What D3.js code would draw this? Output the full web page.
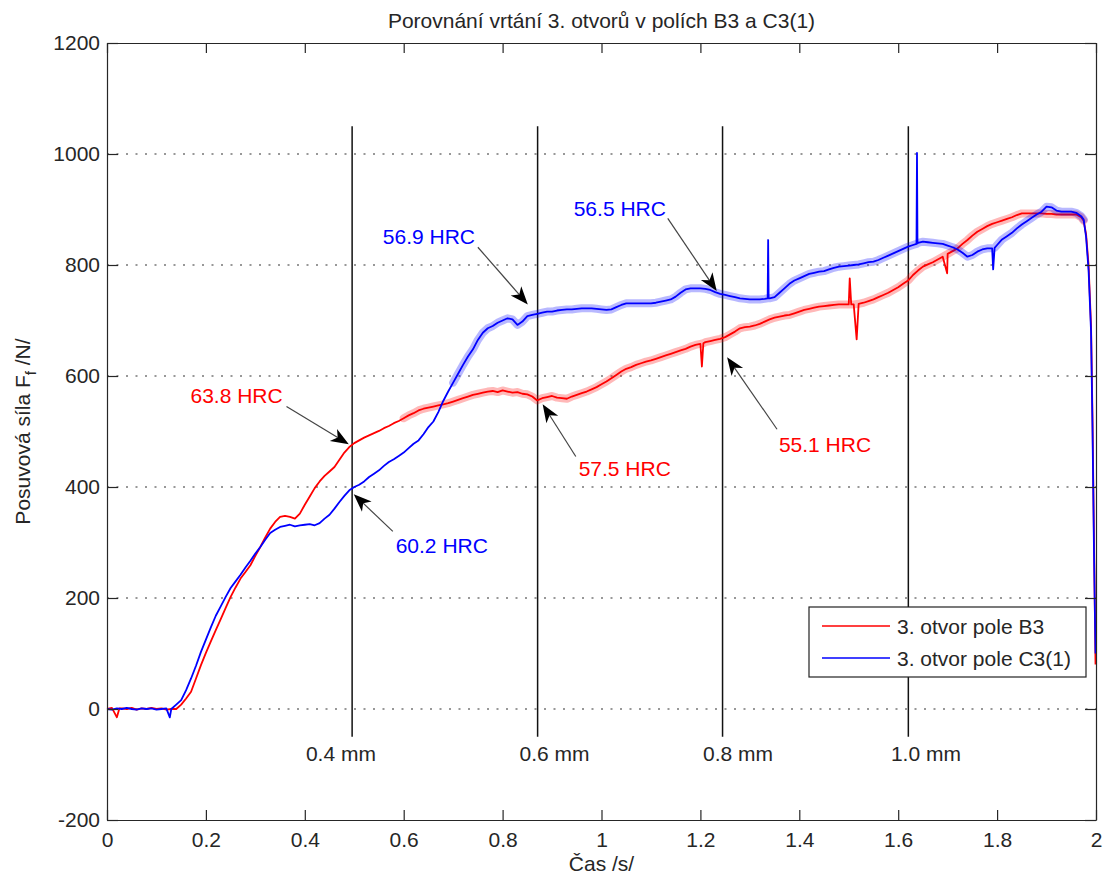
<!DOCTYPE html>
<html>
<head>
<meta charset="utf-8">
<script src="https://cdn.jsdelivr.net/npm/d3@7"></script>
<style>
	body { margin: 0; background: #fff; }
	.axis text { font-family: 'Liberation Sans', Arial, sans-serif; font-size: 21px; fill: #262626; }
	.axis path, .axis line { stroke: #262626; }
</style>
</head>
<body>
<div class="chart"></div>
<script>
// Feed force over time as [time s, force N]
var pointsB3 = [
	[0,0],[0.01,2],[0.02,-15],[0.025,1],[0.03,1],[0.04,0],[0.05,2],[0.06,-1],[0.07,1],[0.08,0],
	[0.09,2],[0.10,0],[0.11,1],[0.12,-1],[0.13,0],[0.14,0],[0.15,8],[0.16,19],[0.17,31],[0.18,55],
	[0.19,79],[0.20,101],[0.21,122],[0.22,142],[0.23,162],[0.24,182],[0.25,202],[0.26,219],[0.27,235],[0.28,247],
	[0.29,259],[0.30,276],[0.31,292],[0.32,309],[0.33,325],[0.34,337],[0.35,346],[0.36,348],[0.37,346],[0.38,343],
	[0.39,352],[0.40,368],[0.41,383],[0.42,398],[0.43,410],[0.44,420],[0.45,428],[0.46,436],[0.47,449],[0.48,462],
	[0.49,472],[0.50,479],[0.51,484],[0.52,489],[0.53,493],[0.54,497],[0.55,501],[0.56,506],[0.57,510],[0.58,515],
	[0.59,519],[0.60,524],[0.61,529],[0.62,533],[0.63,538],[0.64,541],[0.65,543],[0.66,545],[0.67,547],[0.68,549],
	[0.69,551],[0.70,554],[0.71,557],[0.72,560],[0.73,563],[0.74,566],[0.75,568],[0.76,570],[0.77,572],[0.78,573],
	[0.79,571],[0.80,574],[0.81,572],[0.82,570],[0.83,571],[0.84,568],[0.85,567],[0.86,563],[0.87,556],[0.88,560],
	[0.89,562],[0.90,564],[0.91,561],[0.92,560],[0.93,559],[0.94,563],[0.95,566],[0.96,569],[0.97,572],[0.98,576],
	[0.99,580],[1.00,585],[1.01,590],[1.02,596],[1.03,602],[1.04,608],[1.05,613],[1.06,616],[1.07,620],[1.08,623],
	[1.09,626],[1.10,628],[1.11,631],[1.12,634],[1.13,637],[1.14,640],[1.15,643],[1.16,646],[1.17,649],[1.18,653],
	[1.19,656],[1.20,658],[1.203,617],[1.206,659],[1.21,661],[1.22,663],[1.23,665],[1.24,667],[1.25,670],[1.26,675],
	[1.27,680],[1.28,686],[1.29,688],[1.30,689],[1.31,691],[1.32,694],[1.33,698],[1.34,702],[1.35,705],[1.36,707],
	[1.37,709],[1.38,710],[1.39,713],[1.40,716],[1.41,719],[1.42,721],[1.43,723],[1.44,725],[1.45,726],[1.46,727],
	[1.47,728],[1.48,729],[1.49,729],[1.50,729],[1.502,776],[1.505,729],[1.51,729],[1.516,666],[1.52,730],[1.53,732],
	[1.54,735],[1.55,738],[1.56,742],[1.57,746],[1.58,750],[1.59,755],[1.60,760],[1.61,766],[1.62,772],[1.63,782],
	[1.64,790],[1.65,797],[1.66,801],[1.67,805],[1.68,810],[1.69,815],[1.699,785],[1.70,820],[1.71,825],[1.72,830],
	[1.73,838],[1.74,845],[1.75,853],[1.76,860],[1.77,865],[1.78,870],[1.79,874],[1.80,877],[1.81,880],[1.82,883],
	[1.83,886],[1.84,890],[1.85,893],[1.86,893],[1.87,893],[1.88,893],[1.89,893],[1.90,892],[1.91,892],[1.92,891],
	[1.93,891],[1.94,891],[1.95,891],[1.96,891],[1.97,886],[1.975,880],[1.98,855],[1.985,800],[1.99,690],[1.993,520],
	[1.996,300],[1.999,80]
];
var pointsC3 = [
	[0,0],[0.01,-1],[0.02,1],[0.03,0],[0.04,2],[0.05,0],[0.06,-1],[0.07,1],[0.08,0],[0.09,1],
	[0.10,-1],[0.11,0],[0.12,1],[0.127,-15],[0.13,0],[0.14,8],[0.15,16],[0.16,34],[0.17,55],[0.18,78],
	[0.19,103],[0.20,125],[0.21,147],[0.22,168],[0.23,185],[0.24,202],[0.25,218],[0.26,230],[0.27,242],[0.28,255],
	[0.29,267],[0.30,280],[0.31,292],[0.32,305],[0.33,317],[0.34,323],[0.35,328],[0.36,330],[0.37,332],[0.38,329],
	[0.39,331],[0.40,332],[0.41,333],[0.42,331],[0.43,335],[0.44,343],[0.45,350],[0.46,361],[0.47,373],[0.48,384],
	[0.49,394],[0.50,400],[0.51,404],[0.52,410],[0.53,418],[0.54,424],[0.55,430],[0.56,438],[0.57,445],[0.58,450],
	[0.59,456],[0.60,462],[0.61,470],[0.62,478],[0.63,484],[0.64,495],[0.65,508],[0.66,518],[0.67,535],[0.68,555],
	[0.69,572],[0.70,588],[0.71,604],[0.72,620],[0.73,635],[0.74,648],[0.75,665],[0.76,678],[0.77,686],[0.78,690],
	[0.79,696],[0.80,700],[0.81,704],[0.82,702],[0.83,692],[0.84,698],[0.85,708],[0.86,710],[0.87,712],[0.88,714],
	[0.89,716],[0.90,716],[0.91,718],[0.92,719],[0.93,720],[0.94,720],[0.95,721],[0.96,722],[0.97,722],[0.98,722],
	[0.99,721],[1.00,720],[1.01,719],[1.02,720],[1.03,724],[1.04,728],[1.05,731],[1.06,731],[1.07,731],[1.08,731],
	[1.09,731],[1.10,731],[1.11,732],[1.12,734],[1.13,736],[1.14,738],[1.15,743],[1.16,750],[1.17,756],[1.18,758],
	[1.19,758],[1.20,758],[1.21,757],[1.22,755],[1.23,751],[1.24,748],[1.25,746],[1.26,744],[1.27,742],[1.28,740],
	[1.29,739],[1.30,738],[1.31,738],[1.32,738],[1.33,739],[1.336,740],[1.337,845],[1.338,740],[1.34,740],[1.35,742],
	[1.36,750],[1.37,758],[1.38,766],[1.39,772],[1.40,776],[1.41,780],[1.42,784],[1.43,786],[1.44,788],[1.45,789],
	[1.46,792],[1.47,795],[1.48,797],[1.49,798],[1.50,799],[1.51,800],[1.52,801],[1.53,803],[1.54,805],[1.55,806],
	[1.56,809],[1.57,813],[1.58,817],[1.59,821],[1.60,825],[1.61,829],[1.62,833],[1.63,836],[1.637,838],[1.638,1002],
	[1.639,839],[1.64,840],[1.65,842],[1.66,841],[1.67,840],[1.68,839],[1.69,838],[1.70,835],[1.71,832],[1.72,828],
	[1.73,822],[1.74,815],[1.75,818],[1.76,824],[1.77,828],[1.78,830],[1.79,830],[1.792,792],[1.795,831],[1.80,836],
	[1.81,846],[1.82,852],[1.83,858],[1.84,866],[1.85,873],[1.86,879],[1.87,885],[1.88,891],[1.89,896],[1.90,905],
	[1.91,904],[1.92,898],[1.93,896],[1.94,896],[1.95,896],[1.96,894],[1.97,888],[1.975,882],[1.98,850],[1.985,790],
	[1.99,680],[1.993,500],[1.996,280],[1.999,100]
];
var seriesNames = ['3. otvor pole B3', '3. otvor pole C3(1)'];
// time span over which each signal shows a broad noise band
var noiseSpans = [[0.6, 1.975], [0.7, 1.975]];
var xTicks = [0, 0.2, 0.4, 0.6, 0.8, 1, 1.2, 1.4, 1.6, 1.8, 2];
var yTicks = [-200, 0, 200, 400, 600, 800, 1000, 1200];
var gridValues = [0, 200, 400, 600, 800, 1000];

// depth markers (time at which the drill reached the depth)
var depthTimes = [0.4957, 0.8708, 1.2448, 1.6205];
var depthLabels = ['0.4 mm', '0.6 mm', '0.8 mm', '1.0 mm'];
var depthLabelTimes = [0.473, 0.905, 1.276, 1.656];
var depthRange = [-50, 1050];

// hardness annotations
var hrcLabels = ['63.8 HRC', '60.2 HRC', '56.9 HRC', '56.5 HRC', '57.5 HRC', '55.1 HRC'];
var hrcSeries = [0, 1, 1, 1, 0, 0];
var hrcTextAt = [[0.262, 565], [0.677, 295], [0.651, 852], [1.037, 902], [1.047, 434], [1.452, 477]];
var hrcArrowFrom = [[0.363, 545], [0.578, 320], [0.750, 832], [1.134, 884], [0.948, 455], [1.355, 504]];
var hrcArrowTo = [[0.489, 477], [0.499, 387], [0.851, 729], [1.233, 753], [0.881, 549], [1.254, 634]];

var seriesColors = ['#ff0000', '#0000ff'],
	textColor = '#262626',
	fontFamily = "'Liberation Sans', Arial, sans-serif",
	fontSize = '21px';

var margin = {top: 43, left: 107, bottom: 59, right: 7};
var width = 1103 - margin.left - margin.right;
var height = 879 - margin.top - margin.bottom;
var x = d3.scaleLinear().domain([0, 2]).range([0, width]);
var y = d3.scaleLinear().domain([-200, 1200]).range([height, 0]);

var root = d3.select('.chart').append('svg')
	.attr('width', 1103)
	.attr('height', 879)
	.attr('font-family', fontFamily)
	.attr('font-size', fontSize);
var svg = root.append('g')
	.attr('transform', 'translate(' + margin.left + ',' + margin.top + ')');

// dotted horizontal grid
svg.selectAll('.grid')
	.data(gridValues)
	.enter().append('line')
	.attr('x1', 0)
	.attr('x2', width)
	.attr('y1', function(d) { return y(d); })
	.attr('y2', function(d) { return y(d); })
	.attr('stroke', '#333')
	.attr('stroke-width', 1.2)
	.attr('stroke-dasharray', '2,7.5');

// depth markers
depthTimes.forEach(function(t, i) {
	svg.append('line')
		.attr('x1', x(t))
		.attr('x2', x(t))
		.attr('y1', y(depthRange[0]))
		.attr('y2', y(depthRange[1]))
		.attr('stroke', '#111')
		.attr('stroke-width', 1.5);
	svg.append('text')
		.attr('x', x(depthLabelTimes[i]))
		.attr('y', y(-80))
		.attr('text-anchor', 'middle')
		.attr('dominant-baseline', 'central')
		.attr('fill', textColor)
		.text(depthLabels[i]);
});

// the two force signals: a faint band for the noise, then the line itself
var line = d3.line()
	.x(function(d) { return x(d[0]); })
	.y(function(d) { return y(d[1]); });
[pointsB3, pointsC3].forEach(function(pts, i) {
	// single-sample spikes are left out of the band so they stay thin
	var band = pts.filter(function(d, j) {
		if (d[0] < noiseSpans[i][0] || d[0] > noiseSpans[i][1]) return false;
		var prev = pts[j - 1], next = pts[j + 1];
		return !(prev && next && Math.abs(d[1] - prev[1]) > 25 && Math.abs(d[1] - next[1]) > 25);
	});
	svg.append('path')
		.attr('d', line(band))
		.attr('fill', 'none')
		.attr('stroke', seriesColors[i])
		.attr('stroke-opacity', 0.28)
		.attr('stroke-width', 8)
		.attr('stroke-linecap', 'round')
		.attr('stroke-linejoin', 'round');
	svg.append('path')
		.attr('d', line(pts))
		.attr('fill', 'none')
		.attr('stroke', seriesColors[i])
		.attr('stroke-width', 1.8)
		.attr('stroke-linejoin', 'round');
});

// hardness labels with arrows
hrcLabels.forEach(function(label, i) {
	var x1 = x(hrcArrowFrom[i][0]), y1 = y(hrcArrowFrom[i][1]),
		x2 = x(hrcArrowTo[i][0]), y2 = y(hrcArrowTo[i][1]);
	var a = Math.atan2(y2 - y1, x2 - x1),
		ux = Math.cos(a), uy = Math.sin(a),
		len = 18, half = 7, notch = 5;
	var bx = x2 - len * ux, by = y2 - len * uy,
		nx = x2 - (len - notch) * ux, ny = y2 - (len - notch) * uy;
	svg.append('line')
		.attr('x1', x1).attr('y1', y1)
		.attr('x2', nx).attr('y2', ny)
		.attr('stroke', '#444')
		.attr('stroke-width', 1.2);
	svg.append('path')
		.attr('d', 'M' + x2 + ',' + y2 +
			'L' + (bx - half * uy) + ',' + (by + half * ux) +
			'L' + nx + ',' + ny +
			'L' + (bx + half * uy) + ',' + (by - half * ux) + 'Z')
		.attr('fill', '#000');
	svg.append('text')
		.attr('x', x(hrcTextAt[i][0]))
		.attr('y', y(hrcTextAt[i][1]))
		.attr('text-anchor', 'middle')
		.attr('dominant-baseline', 'central')
		.attr('fill', seriesColors[hrcSeries[i]])
		.text(label);
});

// axes, ticks pointing inwards on all four sides
svg.append('g')
	.attr('class', 'axis')
	.attr('transform', 'translate(0,' + height + ')')
	.call(d3.axisBottom(x).tickValues(xTicks).tickSize(-10).tickSizeOuter(0).tickPadding(12)
		.tickFormat(function(d) { return String(d); }));
svg.append('g')
	.attr('class', 'axis')
	.call(d3.axisTop(x).tickValues(xTicks).tickSize(-10).tickSizeOuter(0).tickFormat(''));
svg.append('g')
	.attr('class', 'axis')
	.call(d3.axisLeft(y).tickValues(yTicks).tickSize(-11).tickSizeOuter(0).tickPadding(7)
		.tickFormat(function(d) { return String(d); }));
svg.append('g')
	.attr('class', 'axis')
	.attr('transform', 'translate(' + width + ',0)')
	.call(d3.axisRight(y).tickValues(yTicks).tickSize(-11).tickSizeOuter(0).tickFormat(''));
svg.selectAll('.axis path, .axis line').attr('stroke-width', 1.2);

// legend
var legend = svg.append('g')
	.attr('transform', 'translate(' + (width - 287) + ',' + (height - 213) + ')');
legend.append('rect')
	.attr('width', 277)
	.attr('height', 70)
	.attr('fill', '#fff')
	.attr('stroke', '#222')
	.attr('stroke-width', 1.2);
seriesNames.forEach(function(name, i) {
	legend.append('line')
		.attr('x1', 13)
		.attr('x2', 81)
		.attr('y1', 19 + i * 32)
		.attr('y2', 19 + i * 32)
		.attr('stroke', seriesColors[i])
		.attr('stroke-width', 1.5);
	legend.append('text')
		.attr('x', 88)
		.attr('y', 19 + i * 32)
		.attr('dominant-baseline', 'central')
		.attr('fill', textColor)
		.text(name);
});

// title and axis labels
root.append('text')
	.attr('x', margin.left + width / 2)
	.attr('y', 28)
	.attr('text-anchor', 'middle')
	.attr('fill', textColor)
	.text('Porovnání vrtání 3. otvorů v polích B3 a C3(1)');
root.append('text')
	.attr('x', margin.left + width / 2)
	.attr('y', 871)
	.attr('text-anchor', 'middle')
	.attr('fill', textColor)
	.text('Čas /s/');
var ylab = root.append('text')
	.attr('transform', 'translate(30,' + (margin.top + height / 2) + ') rotate(-90)')
	.attr('text-anchor', 'middle')
	.attr('fill', textColor);
ylab.append('tspan').text('Posuvová síla F');
ylab.append('tspan').attr('dy', 6).attr('font-size', '15px').text('f');
ylab.append('tspan').attr('dy', -6).text(' /N/');
</script>
</body>
</html>
